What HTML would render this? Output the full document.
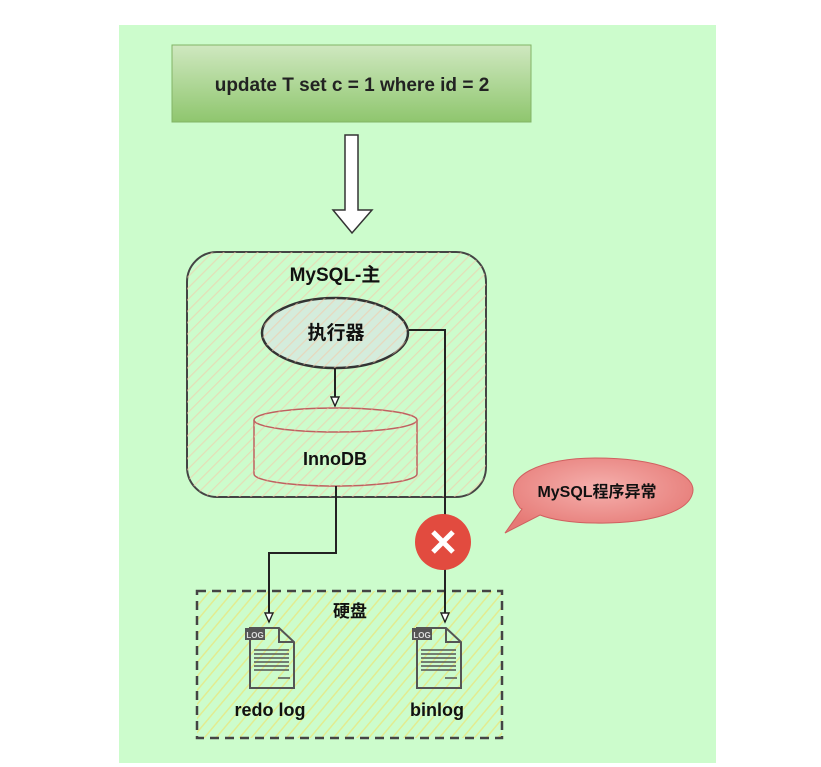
<!DOCTYPE html>
<html><head><meta charset="utf-8"><style>body{margin:0;background:#fff}svg{display:block}text{font-family:"Liberation Sans","Noto Sans CJK SC",sans-serif;font-weight:bold}</style></head><body>
<svg width="821" height="767" viewBox="0 0 821 767">
<defs>
<pattern id="h" width="8" height="8" patternUnits="userSpaceOnUse" patternTransform="rotate(45)"><line x1="0" y1="0" x2="0" y2="8" stroke="#f3c9a8" stroke-width="2.5" opacity="0.6"/></pattern>
<pattern id="h2" width="9" height="9" patternUnits="userSpaceOnUse" patternTransform="rotate(40)"><line x1="0" y1="0" x2="0" y2="9" stroke="#e2ec90" stroke-width="3"/></pattern>
<linearGradient id="g" x1="0" y1="0" x2="0" y2="1"><stop offset="0" stop-color="#cfe8c0"/><stop offset="1" stop-color="#8fc66e"/></linearGradient>
<radialGradient id="c" cx="0.5" cy="0.4" r="0.6"><stop offset="0" stop-color="#f5b0ad"/><stop offset="1" stop-color="#e67a76"/></radialGradient>
<marker id="a" markerWidth="12" markerHeight="12" refX="10" refY="5" orient="auto" markerUnits="userSpaceOnUse"><path d="M1,1 L10,5 L1,9 Z" fill="#fff" stroke="#222" stroke-width="1.4"/></marker>
</defs>
<rect x="119" y="25" width="597" height="738" fill="#ccfccc"/>
<rect x="172" y="45" width="359" height="77" fill="url(#g)" stroke="#82b366"/>
<text x="352" y="91" font-size="19" text-anchor="middle" fill="#222">update T set c = 1 where id = 2</text>
<path d="M345,135 H358 V210 H372 L352,233 L333,210 H345 Z" fill="#fff" stroke="#333" stroke-width="1.5"/>
<rect x="187" y="252" width="299" height="245" rx="30" fill="#ccfccc" stroke="#444" stroke-width="2"/>
<rect x="187" y="252" width="299" height="245" rx="30" fill="url(#h)"/>
<text x="335" y="281" font-size="19" text-anchor="middle" fill="#111">MySQL-主</text>
<ellipse cx="335" cy="333" rx="73" ry="35" fill="#d4ecdc" stroke="#333" stroke-width="2.5"/>
<ellipse cx="335" cy="333" rx="73" ry="35" fill="url(#h)"/>
<text x="336" y="339" font-size="19" text-anchor="middle" fill="#111">执行器</text>
<line x1="335" y1="368" x2="335" y2="406" stroke="#222" stroke-width="2" marker-end="url(#a)"/>
<path d="M254,420 V474 A81,12 0 0 0 417,474 V420" fill="#ccfccc" stroke="#c06060" stroke-width="1.5"/>
<path d="M254,420 V474 A81,12 0 0 0 417,474 V420" fill="url(#h)"/>
<ellipse cx="335.5" cy="420" rx="81.5" ry="12" fill="#ccfccc" stroke="#c06060" stroke-width="1.5"/>
<ellipse cx="335.5" cy="420" rx="81.5" ry="12" fill="url(#h)"/>
<text x="335" y="465" font-size="18" text-anchor="middle" fill="#111">InnoDB</text>
<rect x="197" y="591" width="305" height="147" fill="url(#h2)" stroke="#444" stroke-width="2.5" stroke-dasharray="9,6"/>
<text x="350" y="617" font-size="17" text-anchor="middle" fill="#111" font-weight="normal">硬盘</text>
<path d="M409,330 H445 V622" fill="none" stroke="#222" stroke-width="2" marker-end="url(#a)"/>
<path d="M336,486 V553 H269 V622" fill="none" stroke="#222" stroke-width="2" marker-end="url(#a)"/>
<circle cx="443" cy="542" r="28" fill="#e24b3f"/>
<path d="M433,532 L453,552 M453,532 L433,552" stroke="#fff" stroke-width="5"/>
<path d="M520,508 C495,475 545,458 595,458 C660,458 700,475 692,495 C685,515 640,524 595,523 C570,523 550,519 540,515 L505,533 L522,509 Z" fill="url(#c)" stroke="#d06060"/>
<text x="597" y="497" font-size="16" text-anchor="middle" fill="#111">MySQL程序异常</text>
<g fill="none" stroke="#555" stroke-width="2">
<path d="M250,628 H279 L294,642 V688 H250 Z"/><path d="M279,628 V642 H294"/>
<rect x="245" y="628" width="20" height="12" fill="#555" stroke="none"/>
<path d="M254,650 H289 M254,654 H289 M254,658 H289 M254,662 H289 M254,666 H289 M254,670 H289 M278,678 H290" stroke-width="1.5"/>
</g>
<text x="255" y="638" font-size="8" fill="#ddd" text-anchor="middle" font-weight="normal">LOG</text>
<g transform="translate(167,0)">
<path d="M250,628 H279 L294,642 V688 H250 Z" fill="none" stroke="#555" stroke-width="2"/><path d="M279,628 V642 H294" fill="none" stroke="#555" stroke-width="2"/>
<rect x="245" y="628" width="20" height="12" fill="#555"/>
<path d="M254,650 H289 M254,654 H289 M254,658 H289 M254,662 H289 M254,666 H289 M254,670 H289 M278,678 H290" stroke="#555" stroke-width="1.5"/>
<text x="255" y="638" font-size="8" fill="#ddd" text-anchor="middle" font-weight="normal">LOG</text>
</g>
<text x="270" y="716" font-size="18" text-anchor="middle" fill="#111">redo log</text>
<text x="437" y="716" font-size="18" text-anchor="middle" fill="#111">binlog</text>
</svg>
</body></html>
